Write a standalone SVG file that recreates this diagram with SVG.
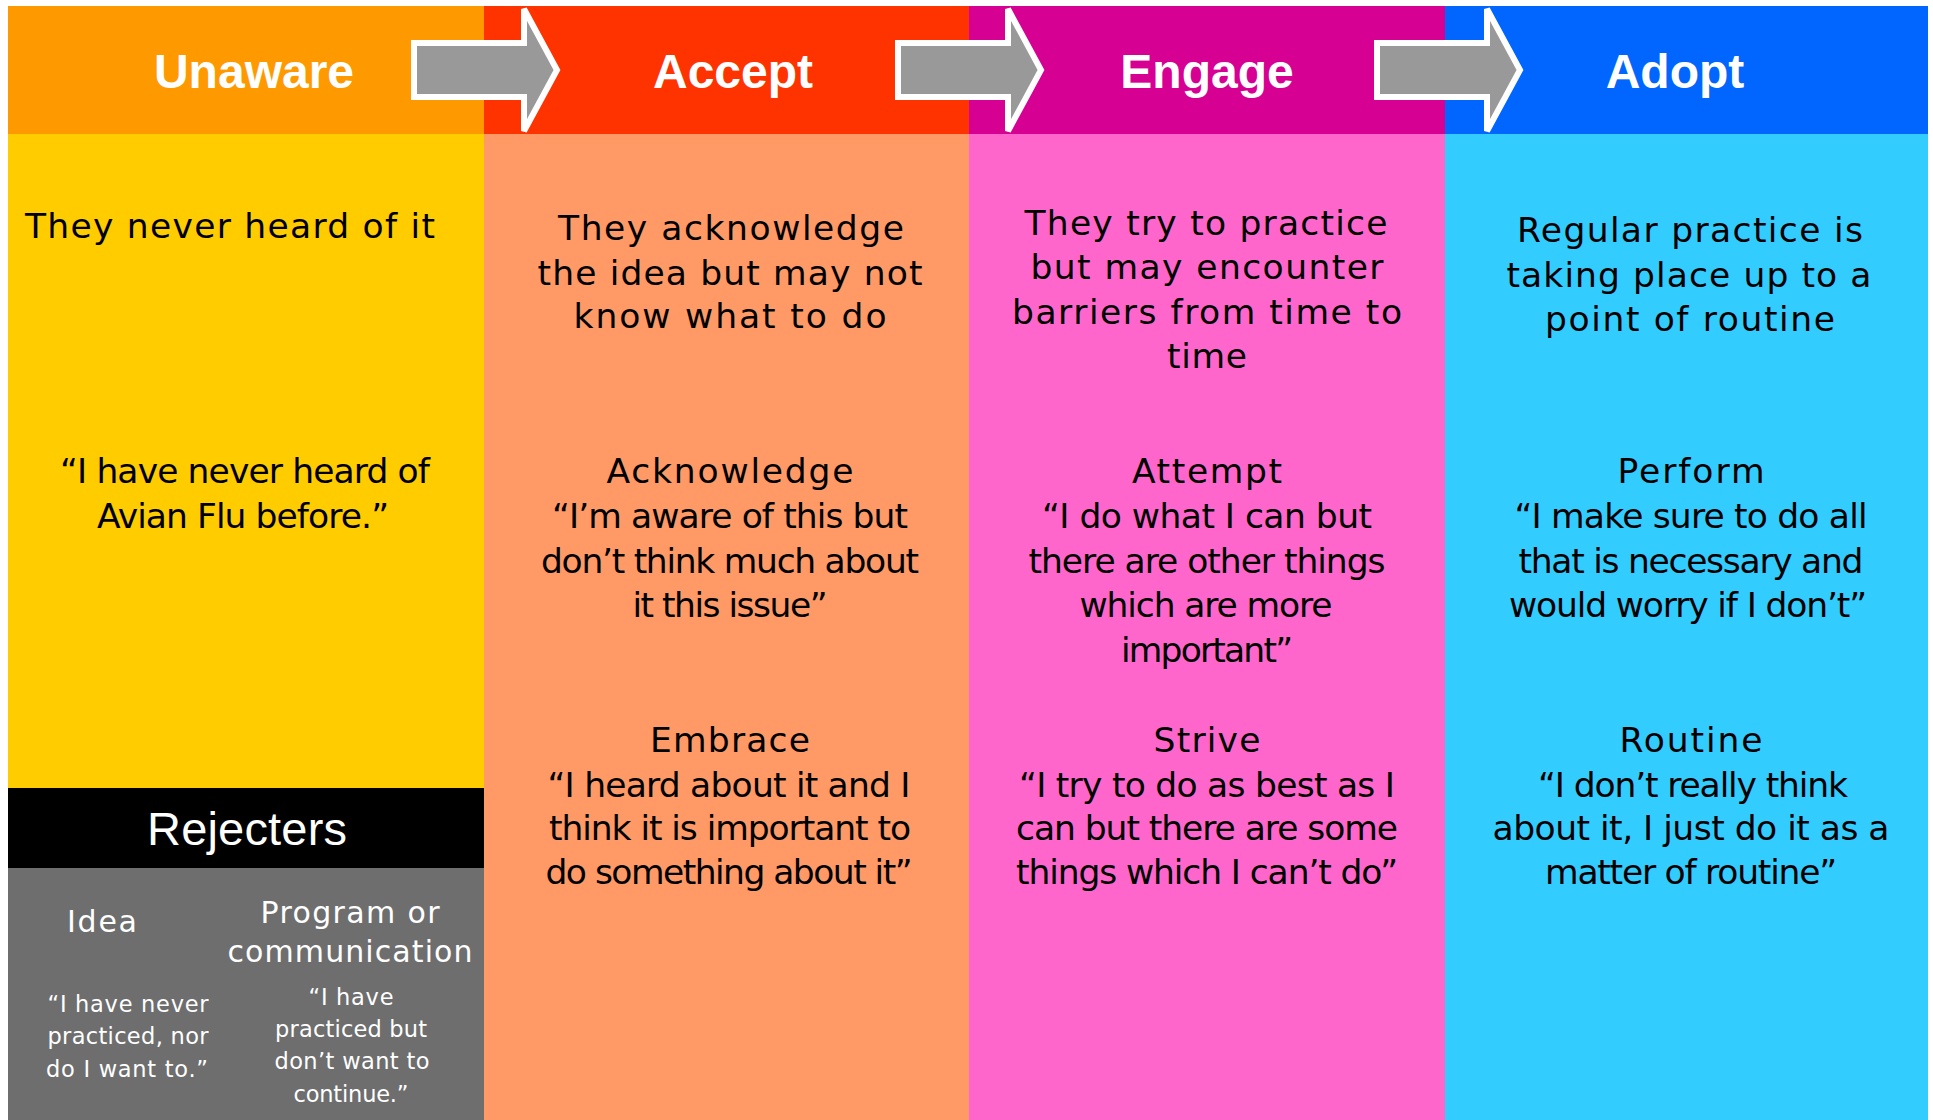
<svg xmlns="http://www.w3.org/2000/svg" width="1933" height="1120" viewBox="0 0 1933 1120">
<style>
.hdr{font-family:"Liberation Sans",Arial,sans-serif;font-weight:bold;font-size:48px;fill:#fff;text-anchor:middle}
.body{font-family:"DejaVu Sans",Verdana,sans-serif;font-size:34.5px;fill:#000;text-anchor:middle}
.rej{font-family:"Liberation Sans",Arial,sans-serif;font-size:47px;fill:#fff;text-anchor:middle}
.sub{font-family:"DejaVu Sans",Verdana,sans-serif;font-size:30px;fill:#fff;text-anchor:middle}
.q{font-family:"DejaVu Sans",Verdana,sans-serif;font-size:22.5px;fill:#fff;text-anchor:middle}
.arrow{fill:#999999;stroke:#ffffff;stroke-width:6;stroke-linejoin:miter}
</style>
<rect x="0" y="0" width="1933" height="1120" fill="#ffffff"/>

<g id="unaware">
  <rect x="8" y="6" width="476" height="128" fill="#FF9900"/>
  <rect x="8" y="134" width="476" height="654" fill="#FFCC00"/>
  <text class="hdr" x="254" y="88">Unaware</text>
  <text class="body" x="230" y="238" textLength="410" lengthAdjust="spacing">They never heard of it</text>
  <text class="body" x="245" y="483" textLength="370" lengthAdjust="spacing">“I have never heard of</text>
  <text class="body" x="243" y="528" textLength="292" lengthAdjust="spacing">Avian Flu before.”</text>
</g>

<g id="rejecters">
  <rect x="8" y="788" width="476" height="80" fill="#000000"/>
  <rect x="8" y="868" width="476" height="252" fill="#6E6E6E"/>
  <text class="rej" x="247" y="845" textLength="200" lengthAdjust="spacing">Rejecters</text>
  <text class="sub" x="102" y="932" textLength="70" lengthAdjust="spacing">Idea</text>
  <text class="sub" x="350" y="923" textLength="179" lengthAdjust="spacing">Program or</text>
  <text class="sub" x="350" y="962" textLength="245" lengthAdjust="spacing">communication</text>
  <text class="q" x="128" y="1012" textLength="161" lengthAdjust="spacing">“I have never</text>
  <text class="q" x="128" y="1044" textLength="161" lengthAdjust="spacing">practiced, nor</text>
  <text class="q" x="127" y="1077" textLength="162" lengthAdjust="spacing">do I want to.”</text>
  <text class="q" x="351" y="1005" textLength="85" lengthAdjust="spacing">“I have</text>
  <text class="q" x="351" y="1037" textLength="152" lengthAdjust="spacing">practiced but</text>
  <text class="q" x="352" y="1069" textLength="155" lengthAdjust="spacing">don’t want to</text>
  <text class="q" x="351" y="1102" textLength="115" lengthAdjust="spacing">continue.”</text>
</g>

<g id="accept">
  <rect x="484" y="6" width="485" height="128" fill="#FF3300"/>
  <rect x="484" y="134" width="485" height="986" fill="#FF9966"/>
  <text class="hdr" x="733" y="88">Accept</text>
  <text class="body" x="731" y="240" textLength="346" lengthAdjust="spacing">They acknowledge</text>
  <text class="body" x="730" y="285" textLength="385" lengthAdjust="spacing">the idea but may not</text>
  <text class="body" x="730" y="328" textLength="313" lengthAdjust="spacing">know what to do</text>
  <text class="body" x="730" y="483" textLength="247" lengthAdjust="spacing">Acknowledge</text>
  <text class="body" x="730" y="528" textLength="356" lengthAdjust="spacing">“I’m aware of this but</text>
  <text class="body" x="730" y="573" textLength="378" lengthAdjust="spacing">don’t think much about</text>
  <text class="body" x="730" y="617" textLength="195" lengthAdjust="spacing">it this issue”</text>
  <text class="body" x="730" y="752" textLength="160" lengthAdjust="spacing">Embrace</text>
  <text class="body" x="729" y="797" textLength="363" lengthAdjust="spacing">“I heard about it and I</text>
  <text class="body" x="730" y="840" textLength="362" lengthAdjust="spacing">think it is important to</text>
  <text class="body" x="729" y="884" textLength="367" lengthAdjust="spacing">do something about it”</text>
</g>

<g id="engage">
  <rect x="969" y="6" width="476" height="128" fill="#D60093"/>
  <rect x="969" y="134" width="476" height="986" fill="#FF66CC"/>
  <text class="hdr" x="1207" y="88">Engage</text>
  <text class="body" x="1206" y="235" textLength="363" lengthAdjust="spacing">They try to practice</text>
  <text class="body" x="1207" y="279" textLength="353" lengthAdjust="spacing">but may encounter</text>
  <text class="body" x="1207" y="324" textLength="390" lengthAdjust="spacing">barriers from time to</text>
  <text class="body" x="1207" y="368" textLength="80" lengthAdjust="spacing">time</text>
  <text class="body" x="1207" y="483" textLength="150" lengthAdjust="spacing">Attempt</text>
  <text class="body" x="1207" y="528" textLength="330" lengthAdjust="spacing">“I do what I can but</text>
  <text class="body" x="1207" y="573" textLength="357" lengthAdjust="spacing">there are other things</text>
  <text class="body" x="1206" y="617" textLength="253" lengthAdjust="spacing">which are more</text>
  <text class="body" x="1207" y="662" textLength="172" lengthAdjust="spacing">important”</text>
  <text class="body" x="1207" y="752" textLength="107" lengthAdjust="spacing">Strive</text>
  <text class="body" x="1207" y="797" textLength="376" lengthAdjust="spacing">“I try to do as best as I</text>
  <text class="body" x="1207" y="840" textLength="382" lengthAdjust="spacing">can but there are some</text>
  <text class="body" x="1207" y="884" textLength="382" lengthAdjust="spacing">things which I can’t do”</text>
</g>

<g id="adopt">
  <rect x="1445" y="6" width="483" height="128" fill="#0066FF"/>
  <rect x="1445" y="134" width="483" height="986" fill="#33CCFF"/>
  <text class="hdr" x="1675" y="88">Adopt</text>
  <text class="body" x="1690" y="242" textLength="346" lengthAdjust="spacing">Regular practice is</text>
  <text class="body" x="1689" y="287" textLength="365" lengthAdjust="spacing">taking place up to a</text>
  <text class="body" x="1690" y="331" textLength="290" lengthAdjust="spacing">point of routine</text>
  <text class="body" x="1691" y="483" textLength="147" lengthAdjust="spacing">Perform</text>
  <text class="body" x="1691" y="528" textLength="353" lengthAdjust="spacing">“I make sure to do all</text>
  <text class="body" x="1691" y="573" textLength="345" lengthAdjust="spacing">that is necessary and</text>
  <text class="body" x="1688" y="617" textLength="358" lengthAdjust="spacing">would worry if I don’t”</text>
  <text class="body" x="1691" y="752" textLength="143" lengthAdjust="spacing">Routine</text>
  <text class="body" x="1693" y="797" textLength="310" lengthAdjust="spacing">“I don’t really think</text>
  <text class="body" x="1691" y="840" textLength="397" lengthAdjust="spacing">about it, I just do it as a</text>
  <text class="body" x="1691" y="884" textLength="292" lengthAdjust="spacing">matter of routine”</text>
</g>

<g id="connectors">
  <polygon class="arrow" points="414,43 524,43 524,9 557,70 524,131 524,97 414,97"/>
  <polygon class="arrow" points="898,43 1008,43 1008,9 1041,70 1008,131 1008,97 898,97"/>
  <polygon class="arrow" points="1377,43 1487,43 1487,9 1520,70 1487,131 1487,97 1377,97"/>
</g>
</svg>
